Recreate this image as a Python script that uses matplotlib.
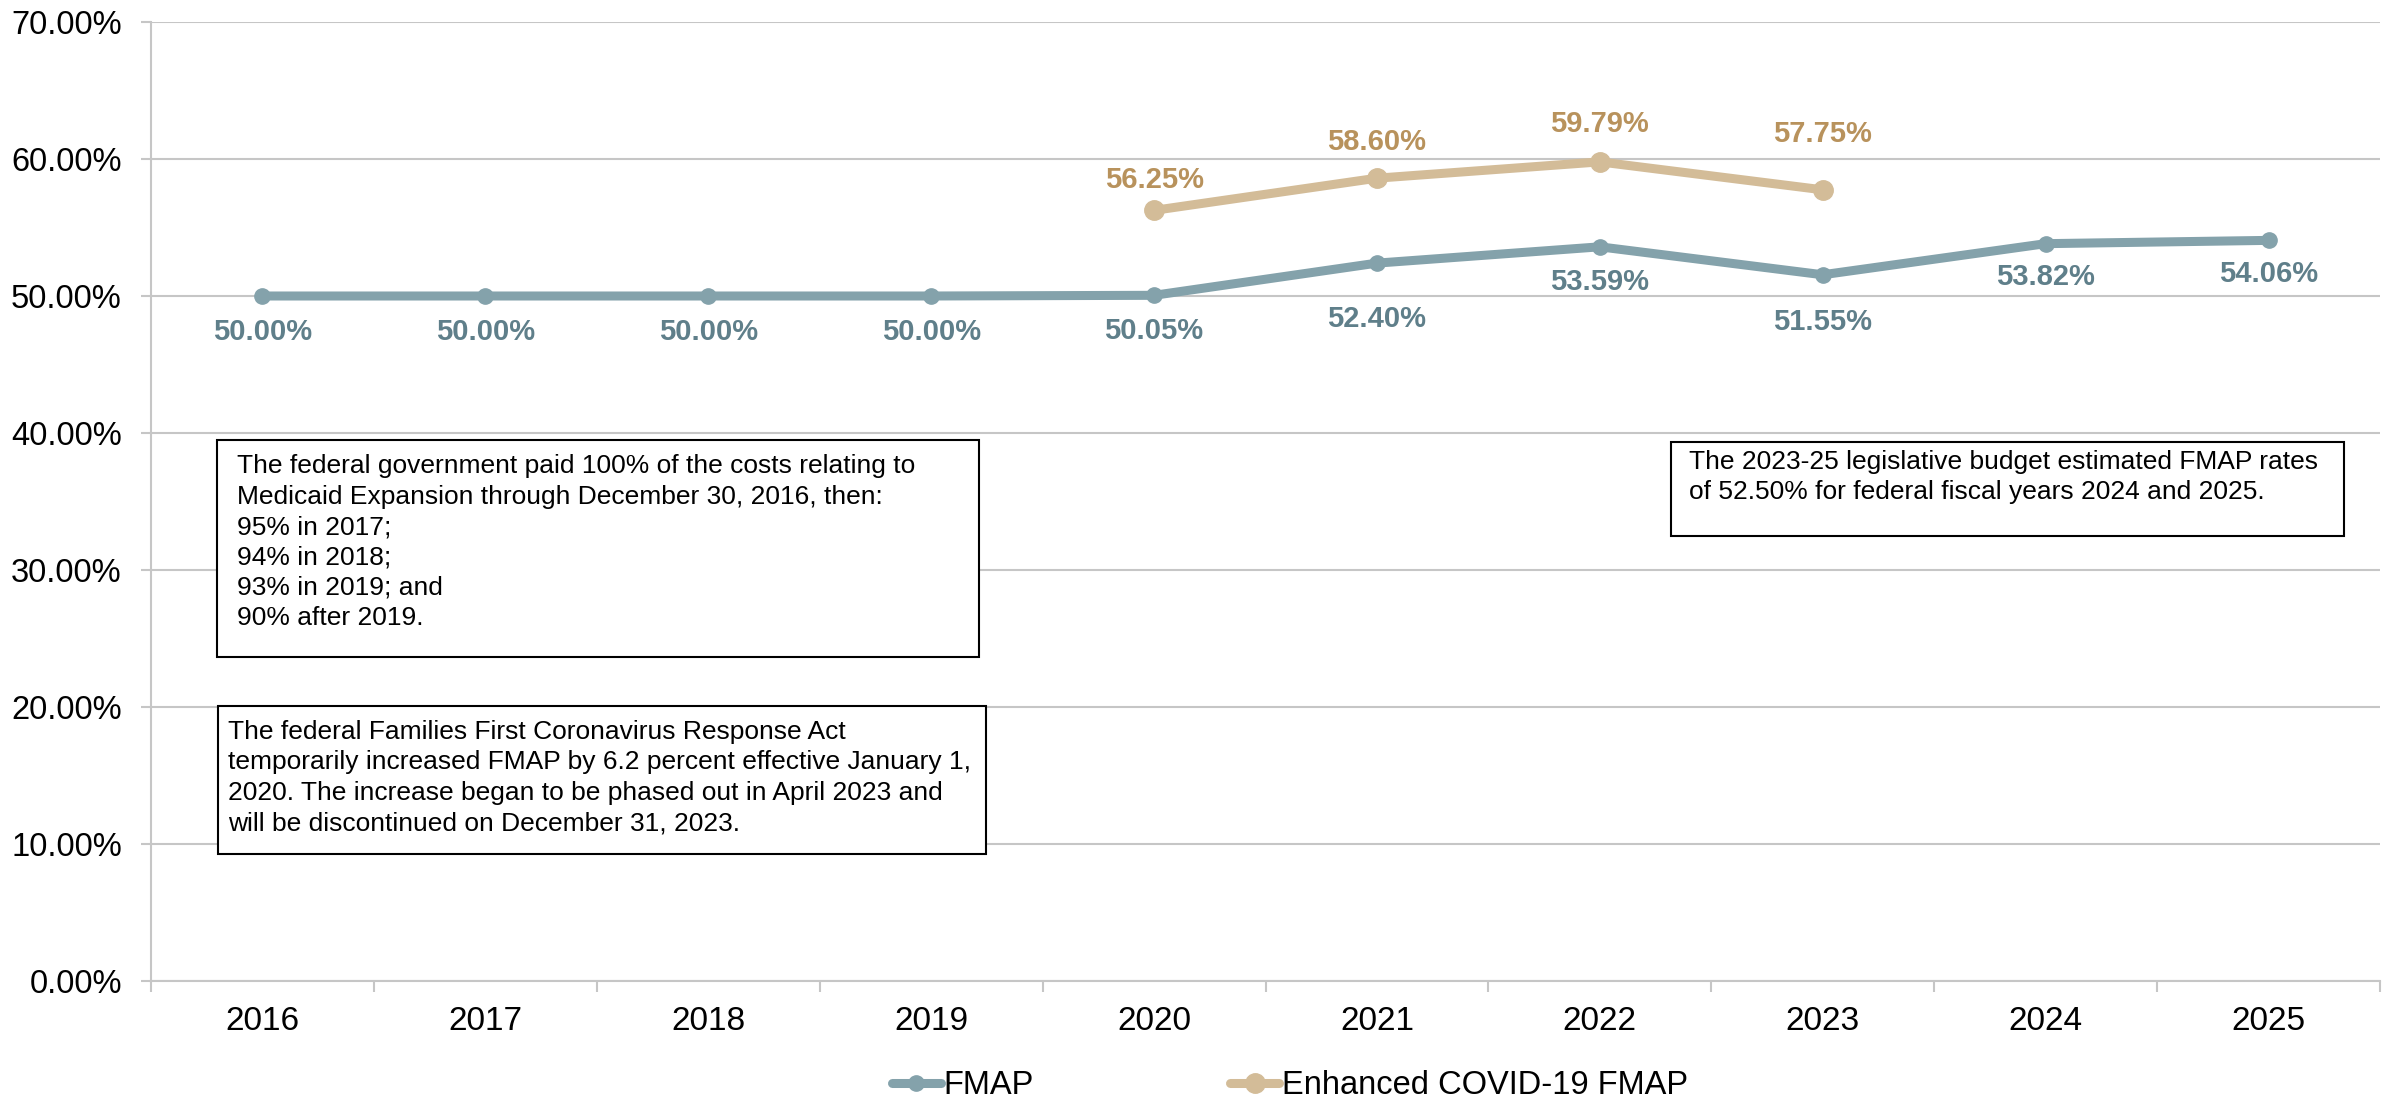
import matplotlib
matplotlib.use('Agg')
import matplotlib.pyplot as plt
import numpy as np
from matplotlib.patches import Rectangle
from matplotlib.ticker import FixedLocator, FuncFormatter

plt.rcParams['font.family'] = ['Liberation Sans', 'DejaVu Sans']

years = ['2016', '2017', '2018', '2019', '2020', '2021', '2022', '2023', '2024', '2025']
fmap = [50.00, 50.00, 50.00, 50.00, 50.05, 52.40, 53.59, 51.55, 53.82, 54.06]
covid_years = ['2020', '2021', '2022', '2023']
covid_fmap = [56.25, 58.60, 59.79, 57.75]

note_expansion = ("The federal government paid 100% of the costs relating to\n"
                  "Medicaid Expansion through December 30, 2016, then:\n"
                  "95% in 2017;\n94% in 2018;\n93% in 2019; and\n90% after 2019.")
note_covid = ("The federal Families First Coronavirus Response Act\n"
              "temporarily increased FMAP by 6.2 percent effective January 1,\n"
              "2020. The increase began to be phased out in April 2023 and\n"
              "will be discontinued on December 31, 2023.")
note_budget = ("The 2023-25 legislative budget estimated FMAP rates\n"
               "of 52.50% for federal fiscal years 2024 and 2025.")

# label offsets in points (below fmap, above covid)
fmap_off = [26, 26, 26, 26, 26, 40, 25, 34, 24, 24]
covid_off = [22, 26, 27, 40]

c_fmap = '#84A2AB'
c_fmap_txt = '#5F7F8A'
c_cov = '#D3BC98'
c_cov_txt = '#B8925C'
grid_c = '#C6C6C6'

fig = plt.figure(figsize=(23.92, 11.02), dpi=100)
ax = fig.add_axes([151 / 2392, 121 / 1102, 2229 / 2392, 959 / 1102])

x = np.arange(len(years))
xc = np.array([years.index(y) for y in covid_years])

ax.plot(x, fmap, color=c_fmap, lw=6.5, marker='o', ms=11, label='FMAP',
        solid_capstyle='round', zorder=3)
ax.plot(xc, covid_fmap, color=c_cov, lw=6.5, marker='o', ms=14,
        label='Enhanced COVID-19 FMAP', solid_capstyle='round', zorder=3)

for xi, v, o in zip(x, fmap, fmap_off):
    ax.annotate('{:.2f}%'.format(v), (xi, v), xytext=(0, -o), textcoords='offset points',
                ha='center', va='center', fontsize=21, fontweight='bold',
                color=c_fmap_txt)
for xi, v, o in zip(xc, covid_fmap, covid_off):
    ax.annotate('{:.2f}%'.format(v), (xi, v), xytext=(0, o), textcoords='offset points',
                ha='center', va='center', fontsize=21, fontweight='bold',
                color=c_cov_txt)

ax.set_xlim(-0.5, len(years) - 0.5)
ax.set_ylim(0, 70)
ax.set_yticks(np.arange(0, 71, 10))
ax.yaxis.set_major_formatter(FuncFormatter(lambda v, p: '{:.2f}%'.format(v)))
ax.set_xticks(x)
ax.set_xticklabels(years)
ax.xaxis.set_minor_locator(FixedLocator(np.arange(-0.5, len(years), 1)))
ax.tick_params(axis='x', which='major', length=0, pad=18, labelsize=24)
ax.tick_params(axis='x', which='minor', length=8, width=1.5, color=grid_c)
ax.tick_params(axis='y', length=7, width=1.5, color=grid_c, pad=14, labelsize=23.5)
ax.grid(axis='y', color=grid_c, lw=1.5, zorder=0)
ax.set_axisbelow(True)
for s in ['top', 'right']:
    ax.spines[s].set_visible(False)
for s in ['left', 'bottom']:
    ax.spines[s].set_color(grid_c)
    ax.spines[s].set_linewidth(1.5)

# annotation boxes (axes fraction): x, y, w, h, text pad x, text pad y
boxes = [(0.0296, 0.338, 0.342, 0.226, 0.009, 0.0146, note_expansion),
         (0.0300, 0.132, 0.3446, 0.155, 0.0045, 0.0146, note_covid),
         (0.682, 0.464, 0.302, 0.098, 0.008, 0.0083, note_budget)]
for bx, by, bw, bh, px, py, txt in boxes:
    ax.add_patch(Rectangle((bx, by), bw, bh, transform=ax.transAxes, fill=True,
                           facecolor='white', edgecolor='black', lw=1.5, zorder=4))
    ax.text(bx + px, by + bh - py, txt, transform=ax.transAxes, ha='left', va='top',
            fontsize=19, linespacing=1.34, zorder=5)

fig.legend(loc='center', bbox_to_anchor=(1290 / 2392, 16 / 1102), ncol=2, frameon=False,
           fontsize=23.5, handlelength=1.5, columnspacing=6.0, handletextpad=0.1)

fig.savefig('out.png', dpi=100)
